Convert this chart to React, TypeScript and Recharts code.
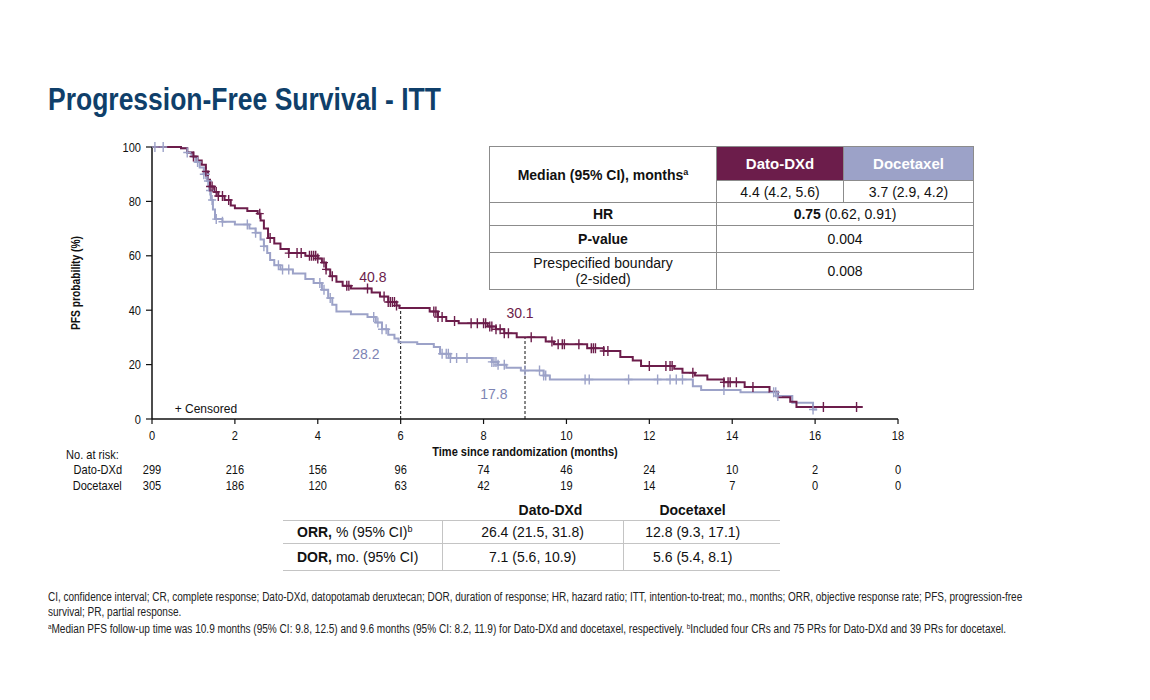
import React, { useLayoutEffect, useRef, useState } from 'react';
import { ComposedChart, Line, Scatter, XAxis, YAxis, ReferenceLine, ReferenceDot } from 'recharts';

const SANS = '"Liberation Sans", Arial, sans-serif';
const PURPLE = '#6c1d4b';
const LAVENDER = '#9ca2c8';
const LAV_TEXT = '#7d84b4';
const TITLE_BLUE = '#0f3f6a';
const NARROW_SCALE = 0.85;

const monthTicks = [0, 2, 4, 6, 8, 10, 12, 14, 16, 18];
const pctTicks = [0, 20, 40, 60, 80, 100];

// Kaplan-Meier steps [time (months), PFS %]
const datoSteps = [
  [0, 100], [0.7, 99.5], [0.85, 98], [1.0, 96.5], [1.1, 95], [1.2, 93.5], [1.3, 91], [1.35, 88],
  [1.4, 85.5], [1.5, 83.5], [1.6, 82], [1.75, 80.5], [1.9, 78.5], [2.0, 77.5], [2.3, 76.5],
  [2.55, 75.5], [2.62, 73], [2.7, 70], [2.8, 66.5], [2.95, 64.5], [3.1, 62.5], [3.3, 61],
  [3.7, 60], [4.0, 59], [4.1, 57.5], [4.2, 55], [4.3, 52.5], [4.45, 50.5], [4.6, 49], [4.8, 48],
  [5.3, 46.5], [5.5, 45], [5.7, 43], [5.9, 41.7], [5.97, 40.8], [6.7, 39.5], [6.9, 37.5],
  [7.1, 36], [7.4, 35.2], [8.1, 34], [8.3, 33], [8.5, 31.5], [8.8, 30.1], [9.5, 28.5],
  [9.7, 27.5], [10.5, 26], [10.9, 25], [11.3, 22.8], [11.6, 21.5], [11.8, 19.5], [12.6, 18.5],
  [12.8, 17], [13.1, 16], [13.4, 14.5], [13.8, 13.5], [14.3, 11.8], [14.9, 10], [15.1, 8],
  [15.4, 6.3], [15.55, 4.4], [17.15, 4.4],
];
const doceSteps = [
  [0, 100], [0.7, 99.5], [0.85, 98], [0.95, 96.5], [1.05, 94.5], [1.15, 92.5], [1.25, 90],
  [1.33, 87.5], [1.38, 84], [1.42, 80.5], [1.47, 77], [1.52, 73.5], [1.7, 72.5], [2.0, 71.5],
  [2.35, 70], [2.5, 68.5], [2.62, 66], [2.7, 63.5], [2.78, 61], [2.85, 58.5], [2.95, 56.5],
  [3.1, 55], [3.4, 53.5], [3.7, 51.5], [3.9, 50], [4.1, 47.5], [4.25, 44.5], [4.35, 42],
  [4.45, 39.5], [4.8, 38.5], [5.2, 37.5], [5.4, 35.5], [5.55, 33], [5.7, 31], [5.85, 29.6],
  [5.95, 28.2], [6.4, 27.6], [6.8, 26.5], [6.95, 24], [7.2, 22.4], [8.2, 21], [8.35, 19.9],
  [8.55, 18.8], [8.9, 17.8], [9.45, 16], [9.6, 14.5], [13.05, 12], [13.25, 10.7], [14.2, 9.8],
  [15.1, 8.5], [15.45, 6], [15.95, 3.5], [16.05, 3.5],
];

// Censoring times (months)
const datoCensor = [
  1.0, 1.3, 1.4, 1.45, 1.55, 1.6, 1.7, 1.85, 2.6, 2.85, 3.3, 3.5, 3.6, 3.8, 3.85, 3.9, 3.95, 4.0,
  4.15, 4.2, 4.35, 4.7, 4.75, 5.2, 5.6, 5.7, 5.75, 5.8, 5.85, 5.9, 6.8, 6.85, 6.9, 7.0, 7.3, 7.7,
  7.85, 8.0, 8.05, 8.15, 8.2, 8.3, 8.4, 8.5, 8.6, 9.15, 9.65, 9.8, 9.9, 9.95, 10.3, 10.6, 10.65,
  10.7, 10.9, 11.0, 12.0, 12.4, 12.5, 12.55, 13.05, 13.8, 13.9, 13.95, 14.1, 14.5, 16.2, 17.0,
];
const doceCensor = [
  0.07, 0.27, 0.85, 1.1, 1.25, 1.3, 1.35, 1.4, 1.45, 1.55, 1.7, 2.3, 2.5, 2.7, 3.05, 3.15, 3.3,
  4.05, 4.15, 4.3, 5.35, 5.45, 5.55, 5.65, 7.0, 7.1, 7.15, 7.2, 7.35, 7.6, 8.2, 8.25, 8.3, 8.35,
  8.5, 9.0, 9.35, 9.45, 9.5, 10.45, 10.55, 11.5, 12.2, 12.5, 12.65, 12.8, 13.8, 15.0, 15.05,
  15.1, 15.95,
];

const riskDato = [299, 216, 156, 96, 74, 46, 24, 10, 2, 0];
const riskDoce = [305, 186, 120, 63, 42, 19, 14, 7, 0, 0];

// landmark lines (month, top value) and annotation labels
const landmarkTimes = [6, 9];
const landmarkDato = [40.8, 30.1];
const annotTexts = ['40.8', '28.2', '30.1', '17.8'];
const annotT = [5.33, 5.16, 8.88, 8.25];
const annotP = [52.2, 23.9, 39.0, 9.2];
const annotSeries = ['dato', 'doce', 'dato', 'doce'];

const toCurve = (steps: number[][]) => steps.map(([t, p]) => ({ t, p }));
const survAt = (steps: number[][], t: number) => {
  let v = steps[0][1];
  for (const [st, sp] of steps) {
    if (st <= t) v = sp;
  }
  return v;
};
const censorPts = (steps: number[][], times: number[]) => times.map((t) => ({ t, p: survAt(steps, t) }));
const riskPts = (values: number[]) => values.map((n, i) => ({ t: monthTicks[i], p: 0, n }));

const makePlus = (color: string) => (props: any) => {
  const { cx, cy } = props;
  if (cx == null || cy == null) return <g />;
  return (
    <path
      d={`M${cx - 4},${cy}H${cx + 4}M${cx},${cy - 5}V${cy + 5}`}
      stroke={color}
      strokeWidth={1.4}
      fill="none"
    />
  );
};
const Hidden = () => <g />;

const NarrowText = ({ x, y, anchor, dy, size = 13, weight = 400, children }: any) => (
  <text
    transform={`translate(${x},${y}) scale(${NARROW_SCALE},1)`}
    textAnchor={anchor}
    dy={dy}
    fontFamily={SANS}
    fontSize={size}
    fontWeight={weight}
    fill="#111"
  >
    {children}
  </text>
);

const XTick = (props: any) => (
  <NarrowText x={props.x} y={props.y} anchor="middle" dy="0.71em">{props.payload.value}</NarrowText>
);
const YTick = (props: any) => (
  <NarrowText x={props.x} y={props.y} anchor="end" dy="0.355em">{props.payload.value}</NarrowText>
);
const RiskTick = (props: any) => {
  const { x, y, payload, values } = props;
  const idx = monthTicks.indexOf(payload.value);
  return <NarrowText x={x} y={y} anchor="middle" dy={17}>{values[idx]}</NarrowText>;
};
const XTitle = (props: any) => {
  const vb = props.viewBox || {};
  return (
    <NarrowText x={vb.x + vb.width / 2} y={vb.y + vb.height - 1} anchor="middle" weight={700}>
      Time since randomization (months)
    </NarrowText>
  );
};

// Scales a single line of text horizontally so it spans the given width
const FitText = ({ width, style, children }: any) => {
  const ref = useRef<HTMLDivElement>(null);
  const [scale, setScale] = useState(1);
  useLayoutEffect(() => {
    if (ref.current) {
      const w = ref.current.scrollWidth;
      if (w > 0) setScale(width / w);
    }
  }, [width]);
  return (
    <div
      ref={ref}
      style={{ position: 'absolute', whiteSpace: 'nowrap', transformOrigin: 'left center', transform: `scaleX(${scale})`, ...style }}
    >
      {children}
    </div>
  );
};

const cellBorder = '1px solid #8c8c8c';
const tdBase: React.CSSProperties = {
  border: cellBorder,
  padding: 0,
  textAlign: 'center',
  verticalAlign: 'middle',
  lineHeight: '16px',
};
const botLine = '1.5px solid #c4c4c4';
const supStyle: React.CSSProperties = { fontSize: 9, verticalAlign: 'top', lineHeight: '10px' };
const footSup: React.CSSProperties = { fontSize: 7.5, verticalAlign: 'top', lineHeight: '10px' };
const noteStyle: React.CSSProperties = { fontFamily: SANS, fontSize: 12, color: '#222', lineHeight: '14px' };
const rowLabel: React.CSSProperties = {
  position: 'absolute', fontFamily: SANS, fontSize: 13, color: '#111', whiteSpace: 'nowrap', lineHeight: '16px',
};

export default function App() {
  return (
    <div style={{ position: 'absolute', left: 0, top: 0, width: 1150, height: 700, background: '#fff', overflow: 'hidden' }}>
      <FitText
        width={393}
        style={{ left: 48, top: 82, fontFamily: SANS, fontWeight: 700, fontSize: 31, color: TITLE_BLUE, lineHeight: '36px' }}
      >
        Progression-Free Survival - ITT
      </FitText>

      <div style={{ position: 'absolute', left: 0, top: 0 }}>
        <ComposedChart width={1150} height={700} margin={{ top: 147, right: 252, bottom: 211, left: 92 }}>
          <XAxis
            dataKey="t"
            type="number"
            domain={[0, 18]}
            ticks={monthTicks}
            allowDataOverflow
            height={38}
            tickSize={5}
            tickMargin={7}
            axisLine={{ stroke: '#111', strokeWidth: 1.5 }}
            tickLine={{ stroke: '#111', strokeWidth: 1.2 }}
            tick={XTick}
            label={XTitle}
          />
          <XAxis
            xAxisId="risk1"
            dataKey="t"
            type="number"
            domain={[0, 18]}
            ticks={monthTicks}
            height={16}
            axisLine={false}
            tickLine={false}
            tickSize={0}
            tickMargin={0}
            tick={(p: any) => <RiskTick {...p} values={riskDato} />}
          />
          <XAxis
            xAxisId="risk2"
            dataKey="t"
            type="number"
            domain={[0, 18]}
            ticks={monthTicks}
            height={16}
            axisLine={false}
            tickLine={false}
            tickSize={0}
            tickMargin={0}
            tick={(p: any) => <RiskTick {...p} values={riskDoce} />}
          />
          <YAxis
            type="number"
            domain={[0, 100]}
            ticks={pctTicks}
            width={60}
            tickSize={6}
            tickMargin={5}
            axisLine={{ stroke: '#111', strokeWidth: 1.5 }}
            tickLine={{ stroke: '#111', strokeWidth: 1.2 }}
            tick={YTick}
          />
          <Scatter xAxisId="risk1" data={riskPts(riskDato)} dataKey="p" shape={Hidden} isAnimationActive={false} />
          <Scatter xAxisId="risk2" data={riskPts(riskDoce)} dataKey="p" shape={Hidden} isAnimationActive={false} />
          {landmarkTimes.map((t, i) => (
            <ReferenceLine
              key={`lm${i}`}
              segment={[{ x: t, y: 0 }, { x: t, y: landmarkDato[i] }]}
              stroke="#111"
              strokeWidth={1}
              strokeDasharray="3 2"
            />
          ))}
          <Line
            data={toCurve(doceSteps)}
            dataKey="p"
            type="stepAfter"
            stroke={LAVENDER}
            strokeWidth={2}
            dot={false}
            isAnimationActive={false}
          />
          <Scatter
            data={censorPts(doceSteps, doceCensor)}
            dataKey="p"
            shape={makePlus(LAVENDER)}
            isAnimationActive={false}
          />
          <Line
            data={toCurve(datoSteps)}
            dataKey="p"
            type="stepAfter"
            stroke={PURPLE}
            strokeWidth={2}
            dot={false}
            isAnimationActive={false}
          />
          <Scatter
            data={censorPts(datoSteps, datoCensor)}
            dataKey="p"
            shape={makePlus(PURPLE)}
            isAnimationActive={false}
          />
          {annotTexts.map((txt, i) => (
            <ReferenceDot
              key={`an${i}`}
              x={annotT[i]}
              y={annotP[i]}
              r={0}
              fill="none"
              stroke="none"
              label={{ value: txt, position: 'center', fill: annotSeries[i] === 'dato' ? PURPLE : LAV_TEXT, fontSize: 14, fontFamily: SANS }}
            />
          ))}
          <ReferenceDot
            x={1.3}
            y={3.7}
            r={0}
            fill="none"
            stroke="none"
            label={{ value: '+ Censored', position: 'center', fill: '#111', fontSize: 12, fontFamily: SANS }}
          />
        </ComposedChart>
      </div>

      <div
        style={{
          position: 'absolute', left: 76, top: 283,
          transform: `translate(-50%, -50%) rotate(-90deg) scaleX(0.82)`,
          fontFamily: SANS, fontWeight: 700, fontSize: 12.5, color: '#111', whiteSpace: 'nowrap', lineHeight: '16px',
        }}
      >
        PFS probability (%)
      </div>

      <div style={{ ...rowLabel, left: 66, top: 447, transformOrigin: 'left center', transform: `scaleX(${NARROW_SCALE})` }}>
        No. at risk:
      </div>
      <div style={{ ...rowLabel, right: 1150 - 122, top: 462, transformOrigin: 'right center', transform: `scaleX(${NARROW_SCALE})` }}>
        Dato-DXd
      </div>
      <div style={{ ...rowLabel, right: 1150 - 122, top: 478, transformOrigin: 'right center', transform: `scaleX(${NARROW_SCALE})` }}>
        Docetaxel
      </div>

      <table
        style={{
          position: 'absolute', left: 489, top: 146, width: 484, borderCollapse: 'collapse',
          tableLayout: 'fixed', fontFamily: SANS, fontSize: 14, color: '#111', border: cellBorder,
        }}
      >
        <colgroup>
          <col style={{ width: 227 }} />
          <col style={{ width: 127 }} />
          <col style={{ width: 130 }} />
        </colgroup>
        <tbody>
          <tr style={{ height: 34 }}>
            <td rowSpan={2} style={{ ...tdBase, fontWeight: 700 }}>
              Median (95% CI), months<sup style={supStyle}>a</sup>
            </td>
            <td style={{ ...tdBase, background: PURPLE, color: '#fff', fontWeight: 700, fontSize: 15 }}>Dato-DXd</td>
            <td style={{ ...tdBase, background: LAVENDER, color: '#fff', fontWeight: 700, fontSize: 15 }}>Docetaxel</td>
          </tr>
          <tr style={{ height: 22 }}>
            <td style={tdBase}>4.4 (4.2, 5.6)</td>
            <td style={tdBase}>3.7 (2.9, 4.2)</td>
          </tr>
          <tr style={{ height: 23 }}>
            <td style={{ ...tdBase, fontWeight: 700 }}>HR</td>
            <td colSpan={2} style={tdBase}><b>0.75</b> (0.62, 0.91)</td>
          </tr>
          <tr style={{ height: 27 }}>
            <td style={{ ...tdBase, fontWeight: 700 }}>P-value</td>
            <td colSpan={2} style={tdBase}>0.004</td>
          </tr>
          <tr style={{ height: 37 }}>
            <td style={tdBase}>Prespecified boundary<br />(2-sided)</td>
            <td colSpan={2} style={tdBase}>0.008</td>
          </tr>
        </tbody>
      </table>

      <table
        style={{
          position: 'absolute', left: 283, top: 500, width: 497, borderCollapse: 'collapse',
          tableLayout: 'fixed', fontFamily: SANS, fontSize: 14, color: '#111',
        }}
      >
        <colgroup>
          <col style={{ width: 159 }} />
          <col style={{ width: 181 }} />
          <col style={{ width: 157 }} />
        </colgroup>
        <tbody>
          <tr style={{ height: 20 }}>
            <td style={{ borderBottom: botLine, padding: 0 }} />
            <td style={{ borderBottom: botLine, padding: '0 0 0 36px', textAlign: 'center', fontWeight: 700 }}>Dato-DXd</td>
            <td style={{ borderBottom: botLine, padding: '0 18px 0 0', textAlign: 'center', fontWeight: 700 }}>Docetaxel</td>
          </tr>
          <tr style={{ height: 23 }}>
            <td style={{ borderBottom: botLine, borderRight: botLine, padding: '0 0 0 14px', whiteSpace: 'nowrap' }}>
              <b>ORR,</b> % (95% CI)<sup style={supStyle}>b</sup>
            </td>
            <td style={{ borderBottom: botLine, borderRight: botLine, padding: 0, textAlign: 'center' }}>26.4 (21.5, 31.8)</td>
            <td style={{ borderBottom: botLine, padding: '0 18px 0 0', textAlign: 'center' }}>12.8 (9.3, 17.1)</td>
          </tr>
          <tr style={{ height: 27 }}>
            <td style={{ borderBottom: botLine, borderRight: botLine, padding: '0 0 0 14px', whiteSpace: 'nowrap' }}>
              <b>DOR,</b> mo. (95% CI)
            </td>
            <td style={{ borderBottom: botLine, borderRight: botLine, padding: 0, textAlign: 'center' }}>7.1 (5.6, 10.9)</td>
            <td style={{ borderBottom: botLine, padding: '0 18px 0 0', textAlign: 'center' }}>5.6 (5.4, 8.1)</td>
          </tr>
        </tbody>
      </table>

      <FitText width={974} style={{ ...noteStyle, left: 48, top: 590 }}>
        CI, confidence interval; CR, complete response; Dato-DXd, datopotamab deruxtecan; DOR, duration of response; HR, hazard ratio; ITT, intention-to-treat; mo., months; ORR, objective response rate; PFS, progression-free
      </FitText>
      <FitText width={133} style={{ ...noteStyle, left: 48, top: 605 }}>
        survival; PR, partial response.
      </FitText>
      <FitText width={958} style={{ ...noteStyle, left: 48, top: 622 }}>
        <sup style={footSup}>a</sup>Median PFS follow-up time was 10.9 months (95% CI: 9.8, 12.5) and 9.6 months (95% CI: 8.2, 11.9) for Dato-DXd and docetaxel, respectively.{' '}
        <sup style={footSup}>b</sup>Included four CRs and 75 PRs for Dato-DXd and 39 PRs for docetaxel.
      </FitText>
    </div>
  );
}
